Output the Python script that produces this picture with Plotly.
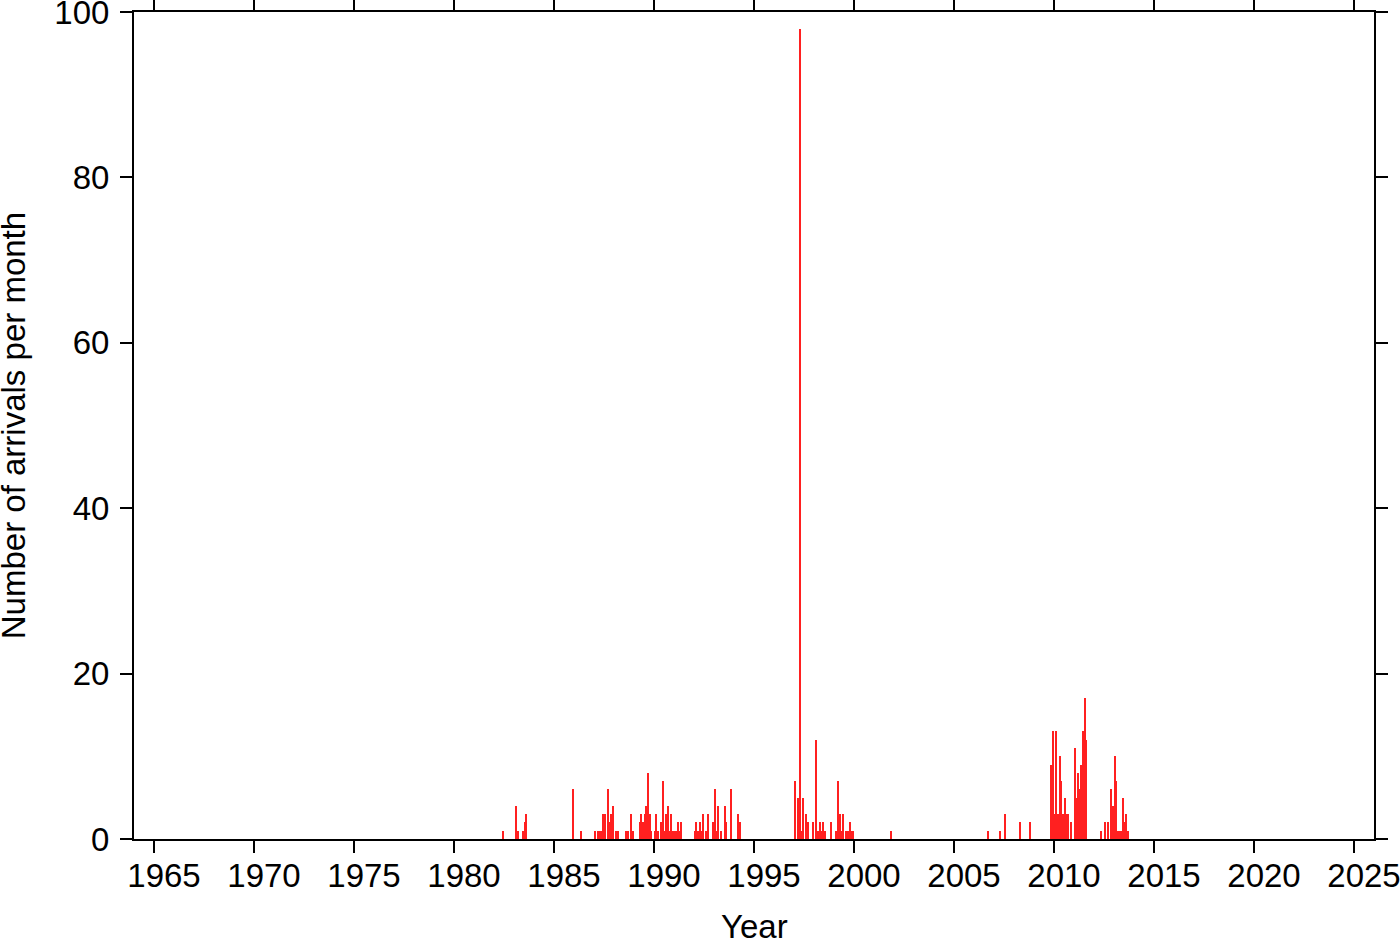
import plotly.graph_objects as go

# Monthly arrival counts (year, month, count)
years = [1982, 1983, 1983, 1983, 1983, 1983, 1985, 1986,
         1987, 1987, 1987, 1987, 1987, 1987, 1987, 1987, 1987, 1987,
         1988, 1988, 1988, 1988, 1988, 1988,
         1989, 1989, 1989, 1989, 1989, 1989, 1989, 1989,
         1990, 1990, 1990, 1990, 1990, 1990, 1990, 1990, 1990, 1990, 1990,
         1991, 1991, 1991, 1991, 1991,
         1992, 1992, 1992, 1992, 1992, 1992, 1992, 1992, 1992,
         1993, 1993, 1993, 1993, 1993, 1993, 1993,
         1994, 1994,
         1997, 1997, 1997, 1997, 1997, 1997, 1997, 1997,
         1998, 1998, 1998, 1998, 1998, 1998, 1998,
         1999, 1999, 1999, 1999, 1999, 1999, 1999, 1999, 1999, 1999,
         2001,
         2006, 2007, 2007, 2008, 2008,
         2009, 2009,
         2010, 2010, 2010, 2010, 2010, 2010, 2010, 2010, 2010, 2010,
         2011, 2011, 2011, 2011, 2011, 2011, 2011, 2011,
         2012, 2012, 2012, 2012, 2012,
         2013, 2013, 2013, 2013, 2013, 2013, 2013, 2013, 2013]
months = [6, 2, 3, 6, 7, 8, 12, 5,
          1, 3, 4, 5, 6, 7, 9, 10, 11, 12,
          2, 3, 8, 9, 11, 12,
          4, 5, 6, 7, 8, 9, 10, 11,
          1, 2, 3, 5, 6, 7, 8, 9, 10, 11, 12,
          1, 2, 3, 4, 5,
          1, 2, 3, 4, 5, 6, 8, 9, 12,
          1, 2, 3, 5, 7, 8, 11,
          3, 4,
          1, 3, 4, 5, 6, 8, 9, 12,
          2, 3, 4, 5, 6, 7, 11,
          2, 3, 4, 5, 6, 8, 9, 10, 11, 12,
          11,
          9, 4, 7, 4, 10,
          11, 12,
          1, 2, 3, 4, 5, 6, 7, 8, 9, 11,
          1, 2, 3, 4, 5, 6, 7, 8,
          5, 7, 9, 11, 12,
          1, 2, 3, 4, 5, 6, 7, 8, 9]
counts = [1, 4, 1, 1, 2, 3, 6, 1,
          1, 1, 1, 1, 3, 3, 6, 2, 3, 4,
          1, 1, 1, 1, 3, 1,
          2, 3, 2, 3, 4, 8, 3, 1,
          1, 3, 1, 2, 7, 1, 3, 4, 1, 3, 1,
          1, 1, 2, 1, 2,
          1, 2, 1, 2, 1, 3, 1, 3, 2,
          6, 1, 4, 1, 4, 2, 6,
          3, 2,
          7, 5, 98, 1, 5, 3, 2, 2,
          12, 1, 2, 1, 2, 1, 2,
          1, 7, 3, 1, 3, 1, 1, 2, 1, 1,
          1,
          1, 1, 3, 2, 2,
          9, 13,
          3, 13, 3, 10, 7, 3, 5, 3, 3, 2,
          11, 5, 8, 6, 9, 13, 17, 12,
          1, 2, 2, 6, 4,
          10, 7, 1, 1, 1, 5, 2, 3, 1]

x_ticks = list(range(1965, 2026, 5))
y_ticks = [0, 20, 40, 60, 80, 100]

xpos = [y + (m - 0.5) / 12 for y, m in zip(years, months)]

FONT = "Liberation Sans, Arial, Helvetica, sans-serif"
FS = 33

fig = go.Figure()
fig.add_trace(go.Bar(
    x=xpos, y=counts, width=1 / 12,
    marker=dict(color="#ff2020", line=dict(width=0)),
    showlegend=False,
))

axis_common = dict(
    showgrid=False, zeroline=False, showline=True, linewidth=2,
    linecolor="black", mirror="ticks", ticks="outside", ticklen=12,
    tickwidth=1.5, tickcolor="black", automargin=False,
    ticklabeloverflow="allow",
    tickfont=dict(family=FONT, size=FS, color="black"),
)

fig.update_layout(
    width=1400, height=942,
    margin=dict(l=134, r=26, t=12, b=103),
    paper_bgcolor="white", plot_bgcolor="white",
    bargap=0,
    xaxis=dict(range=[1964, 2026], tickvals=x_ticks,
               ticktext=[str(v) for v in x_ticks], ticklabelstandoff=-6,
               ticklabelshift=10, **axis_common),
    yaxis=dict(range=[0, 100], tickvals=y_ticks, ticklabelstandoff=4,
               **axis_common),
    annotations=[
        dict(text="Year", xref="paper", yref="paper", x=0.5, y=-0.106,
             xanchor="center", yanchor="middle", showarrow=False,
             font=dict(family=FONT, size=FS, color="black")),
        dict(text="Number of arrivals per month", xref="paper", yref="paper",
             x=-0.097, y=0.5, xanchor="center", yanchor="middle",
             textangle=-90, showarrow=False,
             font=dict(family=FONT, size=FS, color="black")),
    ],
)

fig.write_html("out.html", config={"displayModeBar": False},
               post_script="document.body.style.margin='0';document.body.style.overflow='hidden';")
